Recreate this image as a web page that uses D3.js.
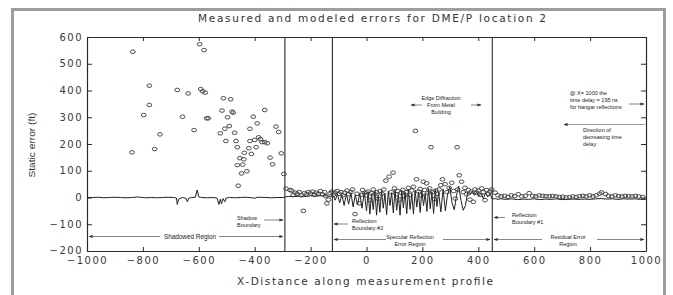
<!DOCTYPE html>
<html>
<head>
<meta charset="utf-8">
<script src="https://cdn.jsdelivr.net/npm/d3@7"></script>
<style>
body { margin: 0; background: #fff; }
svg { display: block; }
</style>
</head>
<body>
<script>
// measured errors (x distance, static error ft)
var measX = [-836,-839,-777,-777,-797,-758,-739,-677,-658,-638,-617,-597,-581,-593,-586,-577,-572,-566,-512,-486,-517,-497,-481,-477,-507,-491,-523,-503,-472,-467,-462,-437,-453,-439,-462,-443,-447,-428,-459,-421,-412,-417,-417,-405,-391,-400,-395,-386,-379,-374,-364,-364,-355,-345,-336,-324,-314,-305,-296,-288,-274,-268,
  -262,-255,-248,-240,-233,-226,-222,-215,-208,-200,-193,-186,-180,-172,-165,-158,-150,-146,-142,-136,-130,-124,-118,-112,-105,-98,-92,-85,-78,-70,-64,-56,-50,-41,-34,-26,-20,-14,-6,0,6,12,18,24,30,36,42,48,55,62,69,81,95,88,100,106,112,118,124,130,136,142,150,156,162,168,175,179,186,192,196,203,208,215,220,226,231,236,242,248,254,260,266,272,281,288,296,305,312,318,324,326,332,340,346,352,358,364,370,376,382,388,394,400,406,412,418,424,430,436,442,448,
  460,470,482,494,506,518,530,543,556,568,582,595,606,618,630,642,654,666,678,690,702,714,726,738,750,762,774,786,798,810,822,834,841,855,866,878,890,902,914,926,938,950,962,974,988];
var measY = [545,169,418,346,308,181,236,402,302,389,252,573,551,405,397,392,296,296,371,367,325,300,321,317,257,267,240,211,242,211,188,167,147,143,121,123,90,98,44,184,163,257,211,302,277,215,188,225,218,207,327,207,203,149,124,265,245,165,88,33,28,26,
  10,18,14,20,8,-50,16,12,20,15,22,10,18,14,24,12,20,5,-22,-8,16,22,10,18,24,14,20,8,18,26,12,20,30,-62,14,-22,10,28,18,8,22,-10,16,30,12,20,-5,24,14,30,63,78,93,20,34,12,24,-8,18,28,6,20,36,10,26,40,249,68,22,32,8,59,28,53,16,34,188,20,-6,26,14,30,46,68,50,20,36,55,24,-4,188,30,83,59,20,36,12,28,-8,22,-16,30,18,26,10,34,20,-10,28,14,22,30,
  18,8,4,6,2,8,5,12,4,6,16,6,4,8,6,5,4,6,4,2,3,0,1,4,2,5,6,4,8,4,8,14,19,13,6,4,8,5,4,6,5,4,6,4,2];

// modeled errors
var modelX = [-1000,-980,-960,-940,-920,-900,-880,-860,-840,-820,-800,-790,-770,-750,-730,-710,-690,-680,-677,-672,-665,-655,-645,-641,-636,-625,-612,-606,-600,-590,-570,-550,-535,-528,-523,-519,-513,-507,-502,-490,-470,-450,-430,-410,-400,-395,-380,-360,-340,-320,-300,-290,
  -280,-260,-240,-220,-200,-180,-160,-140,-130,-120,
  -112,-104,-96,-88,-80,-72,-64,-56,-48,-40,-32,-24,-16,-8,0,6,12,18,24,30,36,42,48,54,60,66,72,78,84,90,96,102,108,114,120,126,132,138,144,150,156,162,168,174,180,186,192,198,204,210,216,222,228,234,240,246,252,258,266,274,282,290,298,306,314,322,330,338,346,354,362,370,378,386,394,402,410,418,426,434,442,450,
  460,470,480,500,520,540,560,580,600,620,640,660,680,700,720,740,760,780,800,820,840,860,880,900,920,940,960,980,1000];
var modelY = [0,0,1,-1,0,1,0,-1,0,2,0,-1,0,-1,0,1,0,-2,-26,-6,-2,0,-4,-16,-3,0,1,28,2,0,-1,0,-2,-26,-6,-24,-4,-16,-2,0,-1,0,1,-1,-3,0,1,0,-1,0,0,2,
  4,3,5,4,6,5,7,6,2,8,
  -10,12,-20,10,-30,14,-25,18,-35,10,-28,16,-40,20,-50,22,-62,14,-45,24,-66,10,-55,26,-40,16,-64,24,-30,18,-58,30,-48,12,-66,26,-38,20,-60,30,-44,14,-62,28,-36,20,-56,26,-30,16,-52,34,-42,22,-60,30,-34,20,-54,32,-50,10,40,-20,-46,8,42,-10,-48,-30,20,10,24,8,20,6,16,-4,18,2,14,-6,
  -4,-7,-5,-7,-5,-8,-6,-7,-5,-8,-6,-7,-5,-8,-7,-6,-7,-6,-7,-5,-4,-6,-5,-7,-5,-6,-5,-7,-7];

var boundaries = [-292, -122, 450];
var xTicks = [-1000,-800,-600,-400,-200,0,200,400,600,800,1000];
var yTicks = [-200,-100,0,100,200,300,400,500,600];

var svg = d3.select("body").append("svg").attr("width", 673).attr("height", 295);

var x = d3.scaleLinear().domain([-1000, 1000]).range([87, 646]);
var y = d3.scaleLinear().domain([-200, 600]).range([251, 37]);

var ink = "#2b2b2b";
var numFont = "'DejaVu Sans', sans-serif";
var smallFont = "'Liberation Sans Narrow', 'Liberation Sans', Arial, sans-serif";
var fmt = d3.format("d");

// scanned page frame
svg.append("rect").attr("x", 12.5).attr("y", 9.5).attr("width", 652).attr("height", 310)
  .attr("fill", "none").attr("stroke", "#9d9d9d").attr("stroke-width", 3);

// arrow heads
var defs = svg.append("defs");
defs.append("marker").attr("id", "head").attr("viewBox", "0 0 10 10").attr("refX", 9).attr("refY", 5)
  .attr("markerWidth", 5).attr("markerHeight", 5).attr("orient", "auto-start-reverse")
  .append("path").attr("d", "M0,1L10,5L0,9Z").attr("fill", "#333");

// axes, ticks pointing inward
var gx = svg.append("g").attr("transform", "translate(0,251)")
  .call(d3.axisBottom(x).tickValues(xTicks).tickSizeInner(-4).tickSizeOuter(0).tickFormat(fmt));
var gxTop = svg.append("g").attr("transform", "translate(0,37)")
  .call(d3.axisTop(x).tickValues(xTicks).tickSizeInner(-4).tickSizeOuter(0).tickFormat(""));
var gy = svg.append("g").attr("transform", "translate(87,0)")
  .call(d3.axisLeft(y).tickValues(yTicks).tickSizeInner(-5).tickSizeOuter(0).tickFormat(fmt));
var gyRight = svg.append("g").attr("transform", "translate(646,0)")
  .call(d3.axisRight(y).tickValues(yTicks).tickSizeInner(-5).tickSizeOuter(0).tickFormat(""));

[gx, gxTop, gy, gyRight].forEach(function(g){
  g.selectAll(".domain").attr("stroke", ink).attr("stroke-width", 1.2);
  g.selectAll(".tick line").attr("stroke", ink);
});
gx.selectAll("text").attr("font-family", numFont).attr("font-size", 10).attr("letter-spacing", 1.5)
  .attr("fill", "#3a3a3a").attr("y", 6).attr("dy", "0.71em");
gy.selectAll("text").attr("font-family", numFont).attr("font-size", 10).attr("letter-spacing", 1.5)
  .attr("fill", "#3a3a3a").attr("x", -4).attr("dy", function(d){ return d == -200 ? "0.2em" : "0.32em"; });

// region boundaries
svg.selectAll(".bound").data(boundaries).enter().append("line")
  .attr("x1", function(d){ return x(d); }).attr("x2", function(d){ return x(d); })
  .attr("y1", y(600)).attr("y2", y(-200)).attr("stroke", ink).attr("stroke-width", 1.1);

// modeled line
var modelData = modelX.map(function(d, i){ return [d, modelY[i]]; });
svg.append("path").datum(modelData)
  .attr("d", d3.line().x(function(d){ return x(d[0]); }).y(function(d){ return y(d[1]); }))
  .attr("fill", "none").attr("stroke", "#222").attr("stroke-width", 1);

// measured points
var measData = measX.map(function(d, i){ return [d, measY[i]]; });
svg.selectAll(".pt").data(measData).enter().append("ellipse")
  .attr("cx", function(d){ return x(d[0]); }).attr("cy", function(d){ return y(d[1]); })
  .attr("rx", 2.4).attr("ry", 1.8).attr("fill", "none").attr("stroke", "#3a3a3a").attr("stroke-width", 0.9);

// titles
svg.append("text").attr("x", 372).attr("y", 22).attr("text-anchor", "middle")
  .attr("font-family", numFont).attr("font-size", 10.5).attr("fill", "#333")
  .attr("textLength", 348).attr("lengthAdjust", "spacing")
  .text("Measured and modeled errors for DME/P location 2");
svg.append("text").attr("x", 365).attr("y", 285).attr("text-anchor", "middle")
  .attr("font-family", numFont).attr("font-size", 10.5).attr("fill", "#333")
  .attr("textLength", 256).attr("lengthAdjust", "spacing")
  .text("X-Distance along measurement profile");
svg.append("text").attr("transform", "translate(35,145) rotate(-90)").attr("text-anchor", "middle")
  .attr("font-family", smallFont).attr("font-size", 9.5).attr("fill", "#333")
  .attr("textLength", 65).attr("lengthAdjust", "spacingAndGlyphs")
  .text("Static error (ft)");

// annotations
var note = function(lines, px, py, anchor, size){
  var t = svg.append("text").attr("font-family", smallFont).attr("font-size", size || 5.5)
    .attr("fill", "#222").attr("text-anchor", anchor);
  lines.forEach(function(s, i){
    t.append("tspan").attr("x", px).attr("y", py + 2 + i * 7.2).text(s);
  });
};
var arrow = function(x1, y1, x2, y2, both, color){
  var l = svg.append("line").attr("x1", x1).attr("y1", y1).attr("x2", x2).attr("y2", y2)
    .attr("stroke", color || "#666").attr("stroke-width", 0.8).attr("marker-end", "url(#head)");
  if (both) l.attr("marker-start", "url(#head)");
  return l;
};

note(["Shadowed Region"], 190, 236.5, "middle", 6.4);
arrow(160, 236.5, 89, 236.5);
arrow(219, 236.5, 283, 236.5);

note(["Shadow", "Boundary"], 237, 217.5, "start");
arrow(264, 220, 283, 220);

note(["Reflection", "Boundary #2"], 352, 220.5, "start");
arrow(348, 224, 334, 224);

note(["Specular Reflection", "Error Region"], 410, 236.5, "middle");
arrow(386, 239.5, 334, 239.5);
arrow(443, 239.5, 490, 239.5);

note(["Reflection", "Boundary #1"], 512, 214.5, "start");
arrow(505, 217.5, 494, 217.5);

note(["Residual Error", "Region"], 568, 236.5, "middle");
arrow(542, 239.5, 494, 239.5);
arrow(597, 239.5, 644, 239.5);

note(["Edge Diffraction", "From Metal", "Building"], 441, 98, "middle");
arrow(422, 105, 411, 105);
arrow(471, 105, 481, 105);

note(["@ X= 1000 the", "time delay = 195 ns", "for hangar reflections"], 570, 93, "start");
arrow(629, 104, 644, 104);

note(["Direction of", "decreasing time", "delay"], 583, 129.5, "start");
arrow(645, 124.5, 564, 124.5, false, "#888");
</script>
</body>
</html>
